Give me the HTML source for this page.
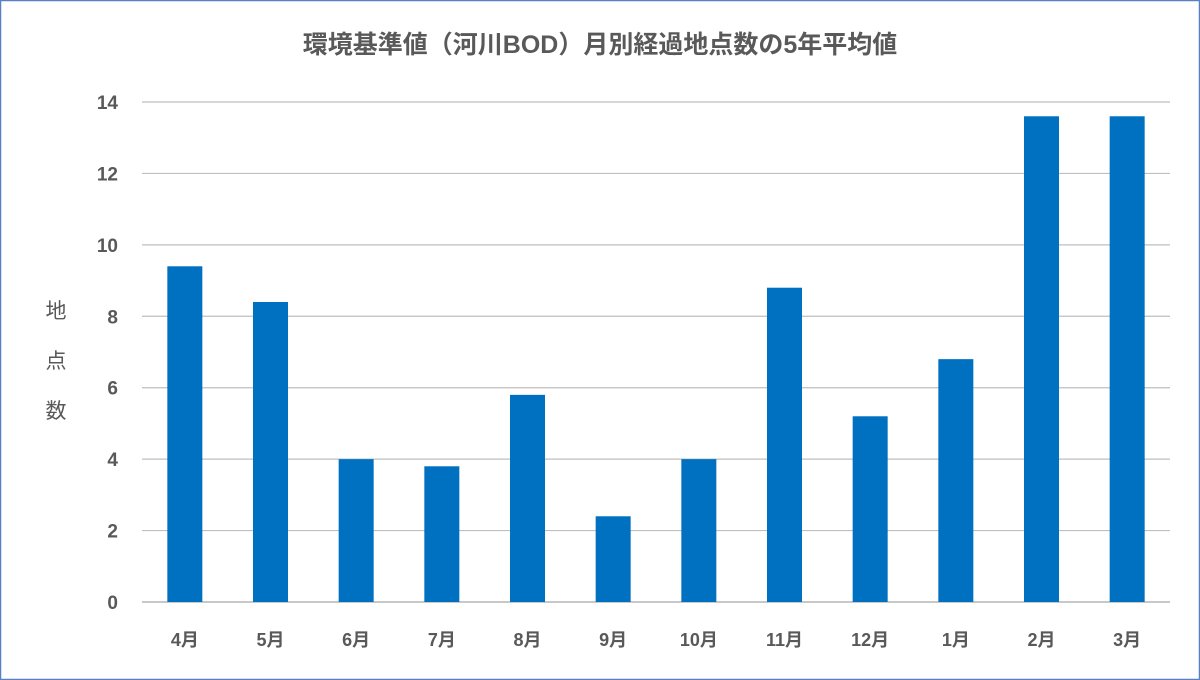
<!DOCTYPE html>
<html><head><meta charset="utf-8"><style>
body{margin:0;background:#fff}
svg{display:block}
text{font-family:"Liberation Sans","Noto Sans CJK JP",sans-serif;fill:#595959}
</style></head><body>
<svg width="1200" height="680" viewBox="0 0 1200 680">
<rect x="0.5" y="0.5" width="1199" height="679" fill="#fff" stroke="#5b7fc4" stroke-width="1.5"/>
<text x="600" y="53" text-anchor="middle" font-size="25" font-weight="bold">環境基準値（河川BOD）月別経過地点数の5年平均値</text>
<g>
<text x="56" y="318" text-anchor="middle" font-size="21">地</text>
<text x="56" y="368" text-anchor="middle" font-size="21">点</text>
<text x="56" y="418" text-anchor="middle" font-size="21">数</text>
</g>
<g id="grid"></g><g id="bars"></g><g id="xl"></g><g id="yl"></g>
</svg>
<script>
const categories=["4月","5月","6月","7月","8月","9月","10月","11月","12月","1月","2月","3月"];
const values=[9.4,8.4,4.0,3.8,5.8,2.4,4.0,8.8,5.2,6.8,13.6,13.6];
const yTicks=[0,2,4,6,8,10,12,14];
const ns="http://www.w3.org/2000/svg";
const L=142,R=1170,T=102,B=602,yMax=14;
const y=v=>B-(v/yMax)*(B-T);
const bw=(R-L)/categories.length;
const x=i=>L+bw*(i+0.5);
function mk(t,a,p){const e=document.createElementNS(ns,t);for(const k in a)e.setAttribute(k,a[k]);document.getElementById(p).appendChild(e);return e;}
yTicks.forEach(v=>{
 const g=mk("line",{x1:L,x2:R,y1:y(v),y2:y(v),stroke:v===0?"#a6a6a6":"#bfbfbf","stroke-width":1.2},"grid");
 
 
 const t=mk("text",{x:L-24,y:y(v)+7,"text-anchor":"end","font-size":19,"font-weight":"bold"},"yl");
 t.textContent=v;
 
 
});
categories.forEach((c,i)=>{
 const r=mk("rect",{x:x(i)-17.5,y:y(values[i]),width:35,height:B-y(values[i]),fill:"#0070c0"},"bars");
 
 
 const t=mk("text",{x:x(i),y:646,"text-anchor":"middle","font-size":18,"font-weight":"bold"},"xl");
 t.textContent=c;
 
 
});
</script>
</body></html>
